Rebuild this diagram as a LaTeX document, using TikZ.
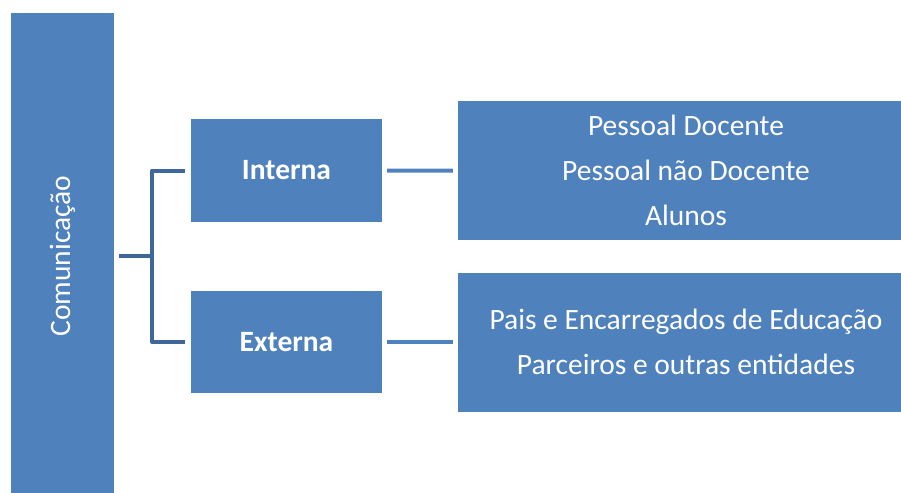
\documentclass[tikz,border=0pt]{standalone}
\usepackage{fontspec}
\setmainfont{Carlito}
\definecolor{boxblue}{RGB}{79,129,189}
\definecolor{linkblue}{RGB}{62,104,154}

\begin{document}
\begin{tikzpicture}
[every node/.style={inner sep=0pt},
 box/.style={rectangle, fill=boxblue, text=white, align=center, font=\fontsize{29.5}{45}\selectfont},
 link/.style={line width=4pt, color=linkblue, line join=round},
 arm/.style={line width=4pt, color=boxblue}]
\useasboundingbox (0pt, 0pt) rectangle (901pt, -492pt);
\node (com) [box, minimum width=103pt, minimum height=486pt] at (62.5pt, -256.0pt) {\rotatebox{90}{Comunicação}};
\node (interna) [box, minimum width=191pt, minimum height=103pt, font=\fontsize{29.5}{34}\selectfont\bfseries] at (286.5pt, -170.5pt) {Interna};
\node (externa) [box, minimum width=191pt, minimum height=102pt, font=\fontsize{29.5}{34}\selectfont\bfseries] at (286.5pt, -342.0pt) {Externa};
\node (pessoal) [box, minimum width=456pt, minimum height=138.5pt] at (686.0pt, -170.75pt) {Pessoal Docente\\Pessoal não Docente\\Alunos};
\node (pais) [box, minimum width=456pt, minimum height=139pt] at (686.0pt, -342.0pt) {Pais e Encarregados de Educação\\Parceiros e outras entidades};
\draw [link] ([xshift=5pt]com.east) to ++(33pt, 0pt);
\draw [link] ([xshift=38pt]com.east) |- ([xshift=-6pt]interna.west);
\draw [link] ([xshift=38pt]com.east) |- ([xshift=-6pt]externa.west);
\draw [arm] ([xshift=5pt]interna.east) to ([xshift=-5pt]pessoal.west);
\draw [arm] ([xshift=5pt]externa.east) to ([xshift=-5pt]pais.west);
\end{tikzpicture}
\end{document}
